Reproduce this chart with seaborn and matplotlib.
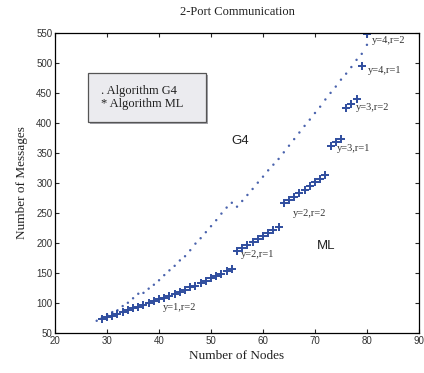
import matplotlib
matplotlib.use("Agg")
import matplotlib.pyplot as plt
from matplotlib.patches import Rectangle
import seaborn as sns
import pandas as pd
import numpy as np

# Algorithm G4 (dots)
g4_nodes = list(range(28, 81))
g4_msgs = [70.5, 76, 81, 85, 88, 95, 100.5, 108, 115.5, 117,
           124, 130.5, 138, 146.5, 154.5, 162, 171, 178, 188, 199,
           208, 218, 228, 238, 249, 259, 267, 260.5, 270, 280,
           290, 300.5, 310.5, 321, 330.5, 340, 351, 362, 373, 384,
           395, 405.5, 416.5, 427, 439, 450, 460.5, 472, 482, 493,
           505, 515, 530]

# Algorithm ML (plus markers)
ml_nodes = list(range(29, 81))
ml_msgs = [74, 76.5, 79, 82, 85, 88, 91, 94, 97, 100,
           103, 106, 109, 112, 115, 119, 122, 126, 129, 133,
           137, 141, 145, 149, 153, 157,
           187, 192, 197, 202, 207, 212, 217, 222, 227,
           266, 272, 277, 283, 289, 295, 301, 307, 313,
           361, 368, 374,
           425, 432, 440,
           494,
           548]

seg_labels = ["y=1,r=2", "y=2,r=1", "y=2,r=2", "y=3,r=1",
              "y=3,r=2", "y=4,r=1", "y=4,r=2"]
seg_label_x = [40.8, 55.8, 65.7, 74.3, 77.8, 80.1, 80.9]
seg_label_y = [93, 181, 249, 358, 425, 487, 538]

sns.set_style("ticks")
plt.rcParams['font.family'] = ['Liberation Serif', 'DejaVu Serif']

fig = plt.figure(figsize=(4.24, 3.73), dpi=100)
ax = fig.add_axes([0.130, 0.107, 0.858, 0.805])

blue = '#2f4d9e'
sns.scatterplot(x=g4_nodes, y=g4_msgs, ax=ax, marker='o', s=3,
                color='#4a63ad', edgecolor='none')
sns.scatterplot(x=ml_nodes, y=ml_msgs, ax=ax, marker='+', s=32,
                color=blue, linewidth=1.4)

for lab, lx, ly in zip(seg_labels, seg_label_x, seg_label_y):
    ax.text(lx, ly, lab, fontsize=7.5, color='#333333', va='center', ha='left')

ax.text(54, 370, 'G4', fontsize=9.5, family=['Liberation Sans'], color='#222222',
        va='center', ha='left')
ax.text(70.3, 195, 'ML', fontsize=9.5, family=['Liberation Sans'], color='#222222',
        va='center', ha='left')

# legend-like box with shadow
bx, by, bw, bh = 0.091, 0.703, 0.324, 0.164
ax.add_patch(Rectangle((bx + 0.005, by - 0.007), bw, bh, transform=ax.transAxes,
                       facecolor='#a5a5ab', edgecolor='none', zorder=3))
ax.add_patch(Rectangle((bx, by), bw, bh, transform=ax.transAxes,
                       facecolor='#ebebef', edgecolor='#555555', linewidth=0.9,
                       zorder=4))
ax.text(bx + 0.035, by + bh * 0.5, '. Algorithm G4\n* Algorithm ML',
        transform=ax.transAxes, fontsize=9, color='#222222', va='center',
        ha='left', linespacing=1.05, zorder=5)

ax.set_xlim(20, 90)
ax.set_ylim(50, 550)
ax.set_xticks(range(20, 91, 10))
ax.set_yticks(range(50, 551, 50))
ax.tick_params(direction='in', length=3, width=0.8, top=True, right=True,
               labelsize=7, pad=2)
for lbl in ax.get_xticklabels() + ax.get_yticklabels():
    lbl.set_family(['Liberation Sans'])
    lbl.set_color('#333333')
for sp in ax.spines.values():
    sp.set_visible(True)
    sp.set_color('black')
    sp.set_linewidth(0.9)

ax.set_xlabel('Number of Nodes', fontsize=9.5, color='#222222', labelpad=3)
ax.set_ylabel('Number of Messages', fontsize=9.5, color='#222222', labelpad=6)
ax.set_title('2-Port Communication', fontsize=9, color='#222222', pad=13)

fig.savefig('out.png', dpi=100)
